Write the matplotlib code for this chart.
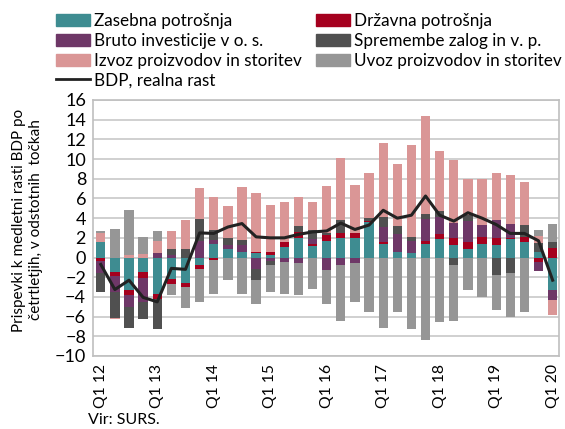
import matplotlib
matplotlib.use("Agg")
import matplotlib.pyplot as plt
import numpy as np
from matplotlib.patches import Patch
from matplotlib.lines import Line2D

plt.rcParams['font.family'] = ['Lato', 'DejaVu Sans']

quarters = [f"Q{q} {y:02d}" for y in range(12, 21) for q in range(1, 5)][:33]

zasebna = [1.6, -1.5, -3.3, -1.5, -3.7, -2.2, -2.6, -0.8, 1.4, 0.9, 0.6,
           0.47, 0.25, 1.1, 2.0, 1.2, 1.7, 2.0, 2.0, 3.6, 1.4, 0.6,
           0.47, 1.4, 1.85, 1.3, 0.9, 1.4, 1.3, 1.85, 1.6, 0.6, -3.25]
drzavna = [-0.35, -0.4, -0.5, -0.55, -0.55, -0.45, -0.4, -0.4, -0.25, 0.0, 0.0,
           0.1, 0.35, 0.5, 0.6, 0.15, 0.55, 0.5, 0.5, 0.1, 0.15, 0.0,
           0.0, 0.27, 0.57, 0.7, 0.7, 0.7, 0.7, 0.15, 0.5, -0.45, 1.0]
investicije = [-1.2, -1.6, -1.25, -2.5, 0.47, 0.3, 0.0, 1.7, 0.35, 0.4, 0.7,
               -1.2, -0.35, -0.45, -0.6, 0.5, -1.3, -0.8, -0.6, 0.0, 1.6, 1.8,
               1.2, 2.25, 1.7, 1.5, 2.1, 1.25, 1.8, 1.4, 0.0, -0.9, -1.1]
zaloge = [-1.9, -2.65, -2.1, -1.7, -3.05, 0.55, 0.9, 2.25, 1.0, 0.7, 0.5,
          -1.1, -0.45, 0.0, 0.6, 0.95, 0.25, 1.3, 0.0, 0.35, 0.95, 0.85,
          0.4, 0.5, 0.6, -0.8, 0.6, 0.0, -1.75, -1.55, 1.25, 0.85, 0.6]
izvoz = [0.85, -0.1, 0.25, 0.35, 1.2, 1.8, 2.9, 3.1, 3.4, 3.2, 5.35,
         6.0, 4.75, 4.0, 2.95, 2.8, 4.8, 6.3, 4.9, 4.5, 7.5, 6.3,
         9.4, 9.95, 6.15, 6.45, 3.65, 4.6, 4.75, 5.0, 4.35, 0.75, -1.45]
uvoz = [0.2, 2.85, 4.6, 1.7, 1.0, -1.2, -2.1, -3.35, -3.45, -2.3, -3.7,
        -2.4, -2.65, -3.25, -3.2, -3.15, -3.4, -5.65, -3.95, -5.5, -7.2, -5.5,
        -7.3, -8.35, -6.5, -5.6, -3.3, -4.05, -3.6, -4.5, -5.5, 0.55, 1.8]
bdp = [-0.7, -3.25, -2.3, -4.05, -4.5, -1.1, -1.2, 2.5, 2.45, 3.1, 3.45,
       2.1, 2.0, 2.0, 2.35, 2.6, 2.7, 3.5, 2.85, 3.3, 4.8, 4.0,
       4.3, 6.25, 4.3, 3.7, 4.55, 4.0, 3.35, 2.45, 2.45, 1.7, -2.3]

names = ["Zasebna potrošnja", "Državna potrošnja", "Bruto investicije v o. s.",
         "Spremembe zalog in v. p.", "Izvoz proizvodov in storitev",
         "Uvoz proizvodov in storitev"]
series = [zasebna, drzavna, investicije, zaloge, izvoz, uvoz]
colors = ["#3E8C91", "#A5001E", "#6E3767", "#505050", "#DA9696", "#969696"]

fig = plt.figure(figsize=(5.65, 4.29), dpi=100)
ax = fig.add_axes([93/565, 1-356/429, (559-93)/565, (356-100)/429])

x = np.arange(len(quarters))
pos_base = np.zeros(len(x))
neg_base = np.zeros(len(x))
for vals, c in zip(series, colors):
    v = np.array(vals, dtype=float)
    p = np.where(v > 0, v, 0)
    n = np.where(v < 0, v, 0)
    ax.bar(x, p, bottom=pos_base, width=0.66, color=c, zorder=3, linewidth=0)
    ax.bar(x, n, bottom=neg_base, width=0.66, color=c, zorder=3, linewidth=0)
    pos_base += p
    neg_base += n

ax.plot(x, bdp, color="#222222", linewidth=2.2, zorder=4)

ax.set_xlim(-0.55, 32.45)
ax.set_ylim(-10, 16)
ax.set_yticks(np.arange(-10, 17, 2))
ax.yaxis.grid(True, color="#c8c8c8", linewidth=1.2, zorder=0)
ax.set_axisbelow(True)
ax.set_xticks(x[::4])
ax.set_xticklabels([quarters[i] for i in range(0, 33, 4)], rotation=90)
ax.tick_params(axis='y', length=0, labelsize=13, pad=5)
ax.tick_params(axis='x', length=0, labelsize=11.3, pad=6)
for s in ax.spines.values():
    s.set_color("#bfbfbf")
    s.set_linewidth(1.2)

fig.text(27.5/565, 1-220/429,
         "Prispevki k medletni rasti BDP po\nčetrtletjih, v odstotnih  točkah",
         rotation=90, ha="center", va="center", multialignment="center",
         fontsize=11, linespacing=1.25)

handles = [Patch(color=colors[0]), Patch(color=colors[2]), Patch(color=colors[4]),
           Line2D([], [], color="#222222", linewidth=2),
           Patch(color=colors[1]), Patch(color=colors[3]), Patch(color=colors[5])]
labels = [names[0], names[2], names[4], "BDP, realna rast", names[1], names[3], names[5]]
fig.legend(handles, labels, ncol=2, loc="upper left", bbox_to_anchor=(56/565, 1-13/429),
           frameon=False, fontsize=12.3, handlelength=2.0, handletextpad=0.2,
           columnspacing=0.85, labelspacing=0.22, borderpad=0, borderaxespad=0)

fig.text(88/565, 1-420/429, "Vir: SURS.", fontsize=11.5, va="center", ha="left")

fig.savefig("out.png", dpi=100)
